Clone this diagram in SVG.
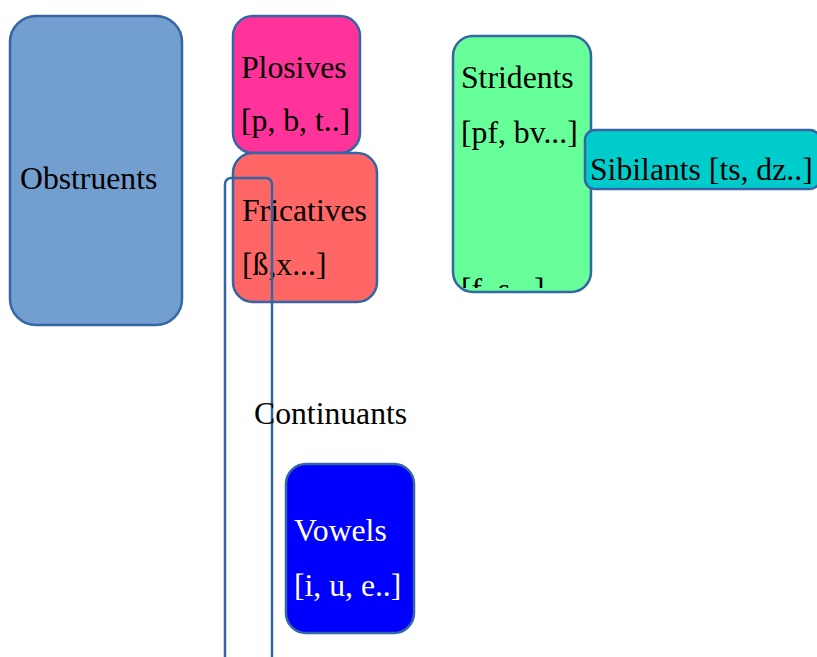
<svg xmlns="http://www.w3.org/2000/svg" width="817" height="657" viewBox="0 0 817 657">
<style>
.box{stroke:#3465a4;stroke-width:2.5}
.t{font-family:"Liberation Serif","Times New Roman",serif;font-size:31.7px;fill:#000}
.w{fill:#fff}
</style>
<defs>
<clipPath id="clipStr"><rect x="453" y="36" width="138" height="252"/></clipPath>
</defs>
<rect width="817" height="657" fill="#fff"/>
<g id="obstruents">
<rect class="box" x="10" y="16" width="172" height="309" rx="26" fill="#729fcf"/>
<text class="t" x="20" y="189">Obstruents</text>
</g>
<g id="plosives">
<rect class="box" x="233" y="16" width="127" height="137" rx="20" fill="#ff3399"/>
<text class="t" x="241" y="78">Plosives</text>
<text class="t" x="241" y="131">[p, b, t..]</text>
</g>
<g id="fricatives">
<rect class="box" x="233" y="153" width="144" height="149" rx="20" fill="#ff6666"/>
<text class="t" x="242" y="221">Fricatives</text>
<text class="t" x="242" y="275">[ß,x...]</text>
</g>
<g id="stridents">
<rect class="box" x="453" y="36" width="138" height="256" rx="20" fill="#66ff99"/>
<text class="t" x="461" y="88">Stridents</text>
<text class="t" x="461" y="143">[pf, bv...]</text>
<text class="t" x="461" y="300" clip-path="url(#clipStr)">[f, s...]</text>
</g>
<g id="sibilants">
<rect class="box" x="585" y="130" width="235" height="59" rx="10" fill="#00cccc"/>
<text class="t" x="590" y="180">Sibilants [ts, dz..]</text>
</g>
<g id="continuants">
<rect class="box" x="225" y="178" width="47" height="500" rx="6" fill="none"/>
<text class="t" x="254" y="424">Continuants</text>
</g>
<g id="vowels">
<rect class="box" x="286" y="464" width="128" height="169" rx="20" fill="#0000ff"/>
<text class="t w" x="294" y="541">Vowels</text>
<text class="t w" x="294" y="596">[i, u, e..]</text>
</g>
<g id="connectors"></g>
</svg>
